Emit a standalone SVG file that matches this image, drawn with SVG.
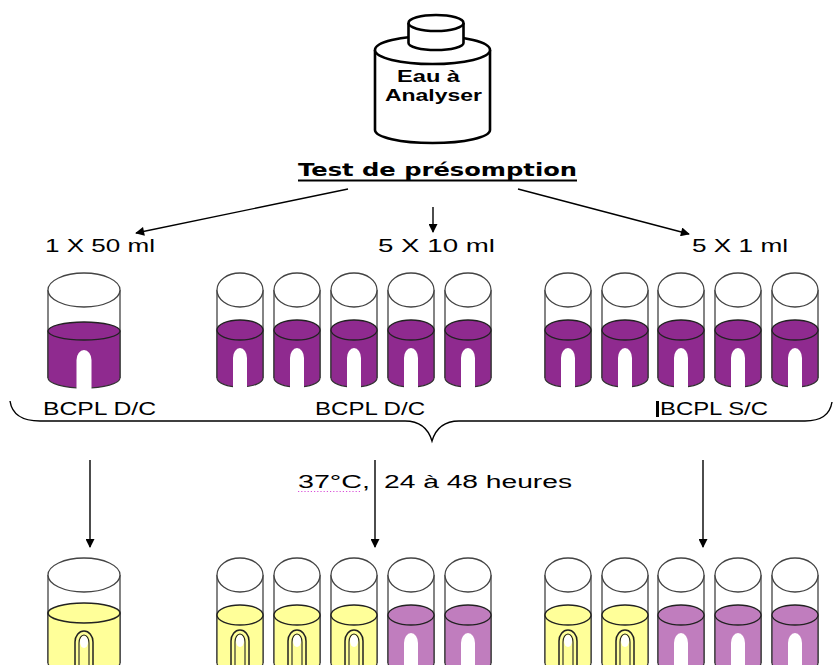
<svg xmlns="http://www.w3.org/2000/svg" width="834" height="665" viewBox="0 0 834 665">
  <style>
    .lbl { font-family: "Liberation Sans", Arial, sans-serif; font-size: 18px; fill: #000; }
    .bold { font-family: "Liberation Sans", Arial, sans-serif; font-weight: bold; fill: #000; }
    .title { font-family: "DejaVu Sans", Verdana, sans-serif; font-weight: bold; font-size: 18px; fill: #000; }
    .glass { fill: none; stroke: #444; stroke-width: 1.3; }
    .rim { fill: #fff; stroke: #444; stroke-width: 1.3; }
    .arrow { fill: none; stroke: #000; stroke-width: 1.4; }
    .bottle { fill: #fff; stroke: #000; stroke-width: 2.6; }
  </style>
  <defs>
    <marker id="head" viewBox="0 0 10 10" refX="9" refY="5" markerWidth="10" markerHeight="9" orient="auto" markerUnits="userSpaceOnUse">
      <path d="M0,0 L10,5 L0,10 Z" fill="#000"/>
    </marker>

    <!-- narrow tube, purple medium (negative) -->
    <g id="tube-p">
      <path class="glass" d="M-23,0 V88 M23,0 V88"/>
      <path d="M-23,40 V88 A23,9 0 0 0 23,88 V40 Z" fill="#8F2A8F" stroke="#333" stroke-width="1.2"/>
      <ellipse cx="0" cy="40" rx="23" ry="10" fill="#8F2A8F" stroke="#222" stroke-width="1.3"/>
      <path d="M-7,98 V68 A7,10 0 0 1 7,68 V98 Z" fill="#fff"/>
      <ellipse class="rim" cx="0" cy="0" rx="23" ry="17"/>
    </g>

    <!-- narrow tube, pale purple (no change) -->
    <g id="tube-lp">
      <path class="glass" d="M-23,0 V88 M23,0 V88"/>
      <path d="M-23,40 V88 A23,9 0 0 0 23,88 V40 Z" fill="#C07DBE" stroke="#333" stroke-width="1.2"/>
      <ellipse cx="0" cy="40" rx="23" ry="10" fill="#C07DBE" stroke="#222" stroke-width="1.3"/>
      <path d="M-7,98 V68 A7,10 0 0 1 7,68 V98 Z" fill="#fff"/>
      <ellipse class="rim" cx="0" cy="0" rx="23" ry="17"/>
    </g>

    <!-- narrow tube, yellow with gas in the Durham tube (positive) -->
    <g id="tube-y">
      <path class="glass" d="M-23,0 V88 M23,0 V88"/>
      <path d="M-23,40 V88 A23,9 0 0 0 23,88 V40 Z" fill="#FFFF99" stroke="#333" stroke-width="1.2"/>
      <ellipse cx="0" cy="40" rx="23" ry="10" fill="#FFFF99" stroke="#222" stroke-width="1.4"/>
      <path d="M-9,100 V66 A9,11 0 0 1 9,66 V100" fill="#FFFF99" stroke="#222" stroke-width="1.5"/>
      <path d="M-5,100 V67 A5,8 0 0 1 5,67 V100" fill="#FFFF99" stroke="#222" stroke-width="1.1"/>
      <ellipse cx="0" cy="66" rx="4" ry="6" fill="#fff"/>
      <ellipse class="rim" cx="0" cy="0" rx="23" ry="17"/>
    </g>

    <!-- wide tube, purple -->
    <g id="wide-p">
      <path class="glass" d="M-36,0 V88 M36,0 V88"/>
      <path d="M-36,41 V88 A36,10 0 0 0 36,88 V41 Z" fill="#8F2A8F" stroke="#333" stroke-width="1.2"/>
      <ellipse cx="0" cy="41" rx="36" ry="9" fill="#8F2A8F" stroke="#222" stroke-width="1.3"/>
      <path d="M-7.5,99 V70 A7.5,10 0 0 1 7.5,70 V99 Z" fill="#fff"/>
      <ellipse class="rim" cx="0" cy="0" rx="36" ry="17"/>
    </g>

    <!-- wide tube, yellow with gas -->
    <g id="wide-y">
      <path class="glass" d="M-36,0 V88 M36,0 V88"/>
      <path d="M-36,38 V88 A36,10 0 0 0 36,88 V38 Z" fill="#FFFF99" stroke="#333" stroke-width="1.2"/>
      <ellipse cx="0" cy="38" rx="36" ry="10" fill="#FFFF99" stroke="#222" stroke-width="1.6"/>
      <path d="M-9,100 V67 A9,11 0 0 1 9,67 V100" fill="#FFFF99" stroke="#222" stroke-width="1.5"/>
      <path d="M-5,100 V68 A5,8 0 0 1 5,68 V100" fill="#FFFF99" stroke="#222" stroke-width="1.1"/>
      <ellipse cx="0" cy="67" rx="4" ry="6" fill="#fff"/>
      <ellipse class="rim" cx="0" cy="0" rx="36" ry="17"/>
    </g>
  </defs>

  <rect width="834" height="665" fill="#fff"/>

  <!-- water sample bottle -->
  <g id="bottle">
    <path class="bottle" d="M375,50 V130 A57.5,13 0 0 0 490,130 V50"/>
    <ellipse class="bottle" cx="432.5" cy="50" rx="57.5" ry="14"/>
    <path class="bottle" d="M408.5,23 V43 A27.5,7 0 0 0 463.5,43 V23"/>
    <ellipse class="bottle" cx="436" cy="23" rx="27.5" ry="8"/>
    <text class="bold" x="397" y="82" font-size="17" textLength="63" lengthAdjust="spacingAndGlyphs">Eau à</text>
    <text class="bold" x="385" y="101" font-size="17" textLength="97" lengthAdjust="spacingAndGlyphs">Analyser</text>
  </g>

  <!-- heading -->
  <g id="heading">
    <text class="title" x="298" y="176" textLength="279" lengthAdjust="spacingAndGlyphs">Test de présomption</text>
    <rect x="298" y="179.5" width="279" height="2" fill="#000"/>
  </g>

  <!-- volume labels -->
  <g id="volumes">
    <text class="lbl" x="45" y="252" textLength="110" lengthAdjust="spacingAndGlyphs">1 X 50 ml</text>
    <text class="lbl" x="378" y="252" textLength="117" lengthAdjust="spacingAndGlyphs">5 X 10 ml</text>
    <text class="lbl" x="692" y="252" textLength="96" lengthAdjust="spacingAndGlyphs">5 X 1 ml</text>
  </g>

  <!-- inoculated tubes -->
  <g id="tube-a1"><use href="#wide-p" x="84" y="290"/></g>
  <g id="tube-b1"><use href="#tube-p" x="240" y="290"/></g>
  <g id="tube-b2"><use href="#tube-p" x="297" y="290"/></g>
  <g id="tube-b3"><use href="#tube-p" x="354" y="290"/></g>
  <g id="tube-b4"><use href="#tube-p" x="411" y="290"/></g>
  <g id="tube-b5"><use href="#tube-p" x="468" y="290"/></g>
  <g id="tube-c1"><use href="#tube-p" x="568" y="290"/></g>
  <g id="tube-c2"><use href="#tube-p" x="625" y="290"/></g>
  <g id="tube-c3"><use href="#tube-p" x="681" y="290"/></g>
  <g id="tube-c4"><use href="#tube-p" x="738" y="290"/></g>
  <g id="tube-c5"><use href="#tube-p" x="795" y="290"/></g>

  <!-- medium labels -->
  <g id="media">
    <text class="lbl" x="43" y="415" font-size="16" textLength="113" lengthAdjust="spacingAndGlyphs">BCPL D/C</text>
    <text class="lbl" x="315" y="415" font-size="16" textLength="110" lengthAdjust="spacingAndGlyphs">BCPL D/C</text>
    <rect x="656" y="401" width="3" height="16" fill="#000"/>
    <text class="lbl" x="660" y="415" font-size="16" textLength="108" lengthAdjust="spacingAndGlyphs">BCPL S/C</text>
  </g>

  <!-- incubation conditions -->
  <g id="incubation">
    <text class="lbl" x="298" y="488" textLength="72" lengthAdjust="spacingAndGlyphs">37°C,</text>
    <line x1="298" y1="491.5" x2="362" y2="491.5" stroke="#d94fd9" stroke-width="1.2" stroke-dasharray="1.2,2"/>
    <text class="lbl" x="384" y="488" textLength="188" lengthAdjust="spacingAndGlyphs">24 à 48 heures</text>
  </g>

  <!-- incubated tubes -->
  <g id="tube-a1-result"><use href="#wide-y" x="84" y="575"/></g>
  <g id="tube-b1-result"><use href="#tube-y" x="240" y="575"/></g>
  <g id="tube-b2-result"><use href="#tube-y" x="297" y="575"/></g>
  <g id="tube-b3-result"><use href="#tube-y" x="354" y="575"/></g>
  <g id="tube-b4-result"><use href="#tube-lp" x="411" y="575"/></g>
  <g id="tube-b5-result"><use href="#tube-lp" x="468" y="575"/></g>
  <g id="tube-c1-result"><use href="#tube-y" x="568" y="575"/></g>
  <g id="tube-c2-result"><use href="#tube-y" x="625" y="575"/></g>
  <g id="tube-c3-result"><use href="#tube-lp" x="681" y="575"/></g>
  <g id="tube-c4-result"><use href="#tube-lp" x="738" y="575"/></g>
  <g id="tube-c5-result"><use href="#tube-lp" x="795" y="575"/></g>

  <!-- connectors -->
  <g id="connectors">
    <line class="arrow" x1="348" y1="189" x2="136" y2="233" marker-end="url(#head)"/>
    <line class="arrow" x1="433" y1="207" x2="433" y2="232" marker-end="url(#head)"/>
    <line class="arrow" x1="518" y1="189" x2="689" y2="234" marker-end="url(#head)"/>
    <path class="arrow" d="M10,401 Q13,421 40,421 L405,421 Q426,421 432,441 Q438,421 459,421 L805,421 Q829,421 832,402"/>
    <line class="arrow" x1="90" y1="460" x2="90" y2="547" marker-end="url(#head)"/>
    <line class="arrow" x1="375" y1="460" x2="375" y2="547" marker-end="url(#head)"/>
    <line class="arrow" x1="703" y1="460" x2="703" y2="547" marker-end="url(#head)"/>
  </g>
</svg>
